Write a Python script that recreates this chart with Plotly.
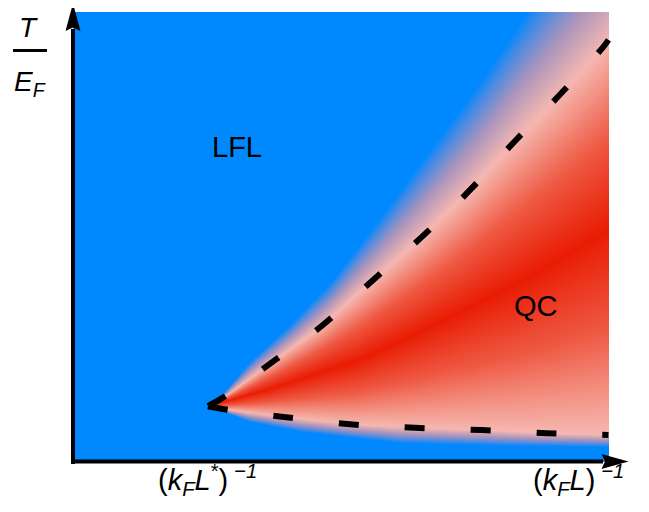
import numpy as np
import plotly.graph_objects as go

# ---- values (x: (k_F L)^-1 scaled, y: T/E_F scaled) ----
upper_dash_x = [0.252, 0.288, 0.372, 0.462, 0.560, 0.653, 0.741, 0.822, 0.909, 0.990, 1.000]
upper_dash_y = [0.124, 0.149, 0.222, 0.300, 0.404, 0.502, 0.604, 0.709, 0.816, 0.922, 0.938]

lower_dash_x = [0.252, 0.289, 0.394, 0.517, 0.638, 0.763, 0.884, 1.000]
lower_dash_y = [0.124, 0.116, 0.100, 0.084, 0.076, 0.071, 0.064, 0.060]

ridge_x = [0.252, 0.362, 0.535, 0.647, 0.834, 1.000]
ridge_y = [0.124, 0.160, 0.227, 0.289, 0.398, 0.516]

upper_edge_x = [0.252, 0.284, 0.330, 0.405, 0.485, 0.573, 0.666, 0.759, 0.847, 0.909, 1.000]
upper_edge_y = [0.124, 0.156, 0.222, 0.304, 0.404, 0.542, 0.693, 0.844, 1.000, 1.104, 1.249]

lower_edge_x = [0.252, 0.330, 0.424, 0.610, 0.797, 1.000]
lower_edge_y = [0.124, 0.089, 0.067, 0.042, 0.036, 0.033]

region_labels = ["LFL", "QC"]
region_label_x = [0.306, 0.865]
region_label_y = [0.700, 0.347]

BLUE = "rgb(0,136,255)"
PINK = "rgb(245,183,176)"
RED = "rgb(233,28,3)"
MAUVE = "rgb(170,148,188)"
SALMON_L = "rgb(243,148,134)"
SALMON_D = "rgb(238,88,66)"

# ---- colour field between the read boundaries ----
nx, ny = 536, 450
xs = (np.arange(nx) + 0.5) / nx
ys = (np.arange(ny) + 0.5) / ny
Y = ys[:, None]
yEu = np.interp(xs, upper_edge_x, upper_edge_y)[None, :]
yDu = np.interp(xs, upper_dash_x, upper_dash_y)[None, :]
yR = np.interp(xs, ridge_x, ridge_y)[None, :]
yDl = np.interp(xs, lower_dash_x, lower_dash_y)[None, :]
yEl = np.interp(xs, lower_edge_x, lower_edge_y)[None, :]


def frac(a, b):
    return np.clip((a - Y) / (a - b + 1e-9), 0, 1)


z = frac(yEu, yDu) + frac(yDu, yR) + frac(yR, yDl) + frac(yDl, yEl)
z = np.round(z, 3)

colorscale = [
    [0.0, BLUE],
    [0.05, "rgb(70,138,228)"],
    [0.14, MAUVE],
    [0.25, PINK],
    [0.30, SALMON_L],
    [0.38, SALMON_D],
    [0.5, RED],
    [0.62, SALMON_D],
    [0.70, SALMON_L],
    [0.75, PINK],
    [0.86, MAUVE],
    [0.95, "rgb(70,138,228)"],
    [1.0, BLUE],
]

fig = go.Figure()
fig.add_trace(go.Heatmap(
    z=z, x=xs, y=ys, zmin=0, zmax=4, colorscale=colorscale,
    showscale=False, hoverinfo="skip",
))
for lx, ly in [(upper_dash_x, upper_dash_y), (lower_dash_x, lower_dash_y)]:
    fig.add_trace(go.Scatter(
        x=lx, y=ly, mode="lines", hoverinfo="skip",
        line=dict(color="black", width=6, dash="20px,46px", shape="spline"),
    ))

# pixel helpers for decorations (screen pixels; page body has an 8px margin)
OFF = 8
W, H = 649 - OFF, 512 - OFF
SX, SY = 535.5, 450.0
def dx(px):
    return (px - 73) / SX
def dy(py):
    return (462 - py) / SY
def P(px, py):
    return f"{dx(px):.5f},{dy(py):.5f}"

shapes = [
    dict(type="line", x0=0, x1=0, y0=dy(464), y1=dy(29), line=dict(color="black", width=4)),
    dict(type="line", x0=dx(71), x1=dx(603), y0=dy(461.5), y1=dy(461.5), line=dict(color="black", width=4)),
    dict(type="path", path=f"M{P(73,3.3)}L{P(65.5,31)}L{P(73,27.5)}L{P(80.5,31)}Z",
         fillcolor="black", line=dict(width=0)),
    dict(type="path", path=f"M{P(628.5,461.5)}L{P(601.5,454)}L{P(605,461.5)}L{P(601.5,469)}Z",
         fillcolor="black", line=dict(width=0)),
    dict(type="line", x0=dx(13), x1=dx(47), y0=dy(50.5), y1=dy(50.5), line=dict(color="black", width=3)),
]

FONT = "Liberation Sans, Arial, sans-serif"
ann = []
for t, x, y in zip(region_labels, region_label_x, region_label_y):
    ann.append(dict(text=t, x=x, y=y, showarrow=False, font=dict(size=29, color="black", family=FONT)))
ann.append(dict(text="<i>T</i>", x=dx(28.5), y=dy(27), showarrow=False,
                font=dict(size=28, color="black", family=FONT)))
ann.append(dict(text="<i>E<sub>F</sub></i>", x=dx(29.5), y=dy(83), showarrow=False,
                font=dict(size=28, color="black", family=FONT)))
ann.append(dict(text="(<i>k<sub>F</sub>L</i><sup>*</sup>)\u2009<sup><i>\u22121</i></sup>", x=upper_dash_x[0],
                y=dy(480), showarrow=False, font=dict(size=29, color="black", family=FONT)))
ann.append(dict(text="(<i>k<sub>F</sub>L</i>)\u2009<sup><i>\u22121</i></sup>", x=dx(578), y=dy(480),
                showarrow=False, font=dict(size=29, color="black", family=FONT)))

fig.update_layout(
    width=W, height=H,
    margin=dict(l=0, r=0, t=0, b=0, pad=0),
    paper_bgcolor="white", plot_bgcolor="white",
    showlegend=False,
    xaxis=dict(range=[dx(OFF), dx(OFF + W)], visible=False, fixedrange=True),
    yaxis=dict(range=[dy(OFF + H), dy(OFF)], visible=False, fixedrange=True),
    shapes=shapes,
    annotations=ann,
)
fig.write_html("out.html")
